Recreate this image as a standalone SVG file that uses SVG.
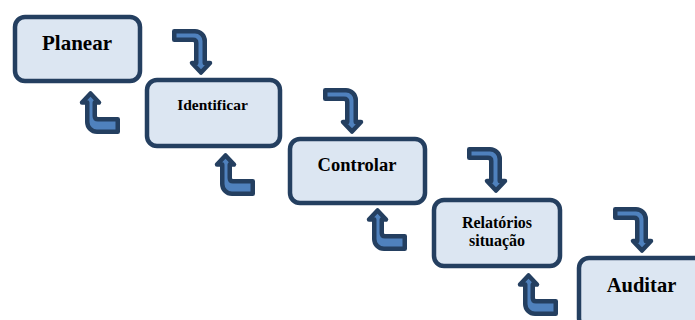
<svg xmlns="http://www.w3.org/2000/svg" width="695" height="320" viewBox="0 0 695 320">
  <style>
    .box { fill: #DCE6F2; stroke: #243F60; stroke-width: 4.5; }
    .arr { fill: #4F81BD; stroke: #243F60; stroke-width: 4.5; stroke-linejoin: round; }
    .lbl { font-family: "Liberation Serif", "Times New Roman", serif; font-weight: bold; fill: #000; text-anchor: middle; }
  </style>
  <defs>
    <!-- bent arrow: right then down -->
    <path id="arrDown" class="arr" d="M2.25,2.25 H23 A9.75,9.75 0 0 1 32.75,12 V34 H38 L29,43.5 L20,34 H24.25 V14 Q24.25,10.75 21,10.75 H2.25 Z"/>
    <!-- bent arrow: left then up -->
    <path id="arrUp" class="arr" d="M10.5,2.5 L19,11.5 H14.75 V25 Q14.75,28.25 18,28.25 H37.75 V40.75 H17 A9.75,9.75 0 0 1 7.25,31 V11.5 H2 Z"/>
  </defs>

  <g id="connectors">
    <use href="#arrDown" transform="translate(172,29)"/>
    <use href="#arrDown" transform="translate(323,88)"/>
    <use href="#arrDown" transform="translate(467,147)"/>
    <use href="#arrDown" transform="translate(613,207)"/>
    <use href="#arrUp" transform="translate(80,91)"/>
    <use href="#arrUp" transform="translate(215,153)"/>
    <use href="#arrUp" transform="translate(367,208)"/>
    <use href="#arrUp" transform="translate(518,273)"/>
  </g>

  <g id="planear">
    <rect class="box" x="15" y="17" width="125" height="64" rx="10"/>
    <text class="lbl" x="77" y="50" font-size="21">Planear</text>
  </g>
  <g id="identificar">
    <rect class="box" x="147" y="80" width="133" height="66" rx="10"/>
    <text class="lbl" x="212.5" y="110" font-size="15.5">Identificar</text>
  </g>
  <g id="controlar">
    <rect class="box" x="290" y="139" width="135" height="64" rx="10"/>
    <text class="lbl" x="357" y="171" font-size="18.5">Controlar</text>
  </g>
  <g id="relatorios">
    <rect class="box" x="434" y="200" width="126" height="66" rx="10"/>
    <text class="lbl" x="497" y="228" font-size="16">Relatórios</text>
    <text class="lbl" x="497" y="246" font-size="16">situação</text>
  </g>
  <g id="auditar">
    <rect class="box" x="579" y="258" width="140" height="70" rx="10"/>
    <text class="lbl" x="641.5" y="292" font-size="20.5">Auditar</text>
  </g>
</svg>
